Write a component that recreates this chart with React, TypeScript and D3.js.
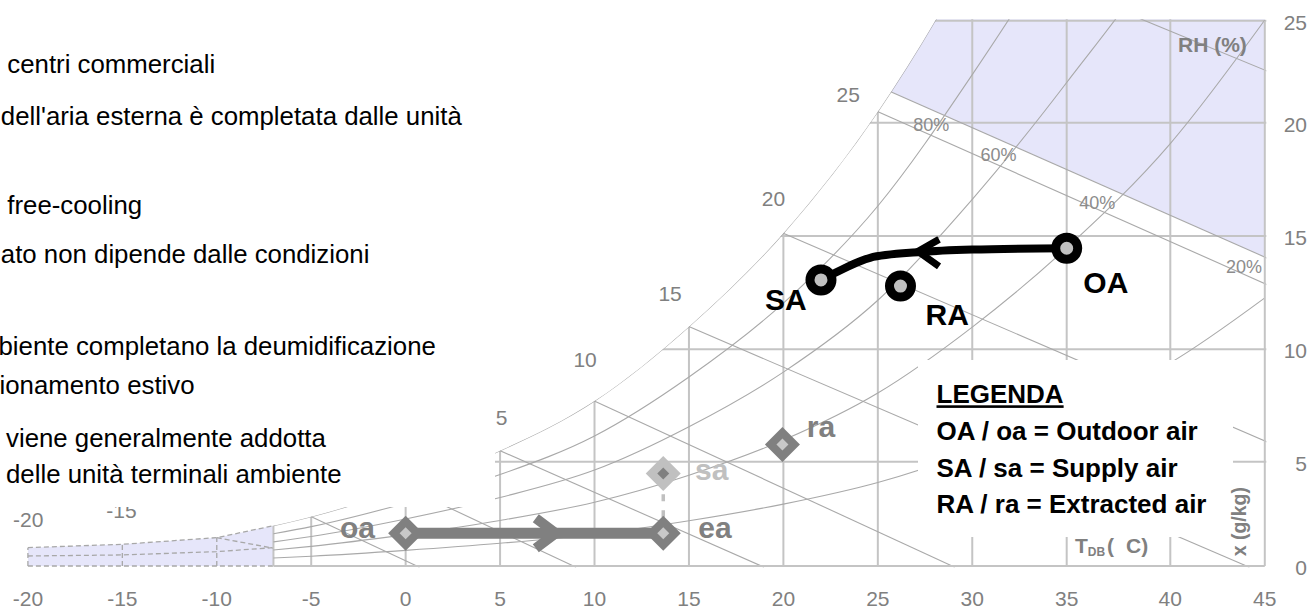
import React from "react";
import * as d3 from "d3";

const WIDTH = 1308;
const HEIGHT = 610;
const FONT = "'Liberation Sans', Arial, Helvetica, sans-serif";

// Dry-bulb temperature ticks (°C) along the bottom
const dryBulbTicks = [-20, -15, -10, -5, 0, 5, 10, 15, 20, 25, 30, 35, 40, 45];
// Humidity-ratio ticks (g/kg) along the right side
const humidityTicks = [0, 5, 10, 15, 20, 25];
// Isotherms and constant humidity lines drawn across the chart
const isotherms = [-5, 0, 5, 10, 15, 20, 25, 30, 35, 40];
const humidityLines = [5, 10, 15, 20, 25];

// Saturation curve: dry bulb (°C) and saturation humidity ratio (g/kg)
const saturationT = [-7, -5, 0, 5, 10, 15, 20, 25, 30, 35, 40, 45];
const saturationX = [1.93, 2.36, 3.77, 5.49, 7.7, 11.0, 15.12, 20.54, 28.2, 37.5, 50.0, 66.6];

// Relative humidity curves and their labels
const rhValues = [0.8, 0.6, 0.4, 0.2];
const rhLabelText = ["80%", "60%", "40%", "20%"];
const rhLabelT = [26.87, 30.44, 35.61, 42.95];
const rhLabelX = [19.65, 18.32, 16.19, 13.35];

// Constant-enthalpy lines: start point and end point (°C, g/kg)
const enthalpyStartT = [-5, 0, 5, 10, 15, 20, 25, 25.73, 38.78];
const enthalpyStartX = [2.36, 3.77, 5.49, 7.7, 11.0, 15.12, 20.54, 21.5, 25];
const enthalpyEndT = [0.59, 8.88, 18.83, 28.93, 44.04, 45, 45, 45, 45];
const enthalpyEndX = [0, 0, 0, 0, 0, 5.92, 12.9, 14.07, 22.58];
const comfortEdgeIndex = 7; // enthalpy line bounding the shaded high-enthalpy zone

// Wet-bulb labels placed along the saturation curve
const wetBulbLabels = ["25", "20", "15", "10", "5", "-15", "-20"];
const wetBulbLabelT = [24.05, 20.09, 14.62, 10.12, 5.39, -14.24, -19.18];
const wetBulbLabelX = [21.03, 16.32, 12.14, 9.23, 6.63, 2.29, 1.88];

// Sub-freezing zone outline
const frostT = [-20, -15, -10, -7];
const frostUpperX = [0.88, 1.04, 1.36, 1.93];
const frostMidX = [0.48, 0.53, 0.69, 0.88];
const frostDiagT = [-10, -7];
const frostDiagX = [1.36, 0.85];

// Summer process (uppercase) states
const summerNames = ["OA", "SA", "RA"];
const summerT = [35, 21.99, 26.2];
const summerX = [14.46, 13.06, 12.79];
const coolingT = [35, 30, 27.24, 24.59, 23.09, 21.99];
const coolingX = [14.46, 14.4, 14.29, 14.04, 13.52, 13.06];
const coolingArrow = { t: 27.13, x: 14.32 };

// Winter process (lowercase) states
const winterNames = ["oa", "ea", "sa", "ra"];
const winterT = [0, 13.64, 13.64, 19.95];
const winterX = [1.57, 1.57, 4.44, 5.77];
const heatingArrow = { t: 7.95, x: 1.57 };

// Explanatory notes shown at the top left
const noteLines = [
  "centri commerciali",
  "dell'aria esterna è completata dalle unità",
  "free-cooling",
  "ato non dipende dalle condizioni",
  "biente completano la deumidificazione",
  "ionamento estivo",
  "viene generalmente addotta",
  "delle unità terminali ambiente",
];
const legendLines = [
  "OA / oa = Outdoor air",
  "SA / sa = Supply air",
  "RA / ra = Extracted air",
];

// ---- layout ----
const noteX = [7.3, 0.8, 7.3, 0.8, -1.5, -0.5, 6, 6];
const noteY = [73.3, 125, 214.3, 263.3, 355, 394.3, 446.7, 482.7];
const summerLabelDx = [16.6, -56, 25];
const summerLabelDy = [44.4, 30, 39];
const winterLabelDx = [-30.7, 35, 31.7, 24.4];
const winterLabelDy = [5, 5, 6.7, -7.6];
const winterAnchor = ["end", "start", "start", "start"];

const xScale = d3.scaleLinear().domain([-20, 35, 40, 45]).range([27.9, 1066.7, 1170.3, 1264.8]);
const yScale = d3
  .scaleLinear()
  .domain([0, 5, 10, 15, 20, 25])
  .range([566, 461.7, 349.3, 236, 122.7, 20.7]);

const GRID = "#c4c4c4";
const CURVE = "#a9a9a9";
const LABEL = "#808080";
const SHADE = "#e6e6fa";
const P_ATM = 101.325;

type Pt = [number, number];
const smooth = d3
  .line<Pt>()
  .x((d) => xScale(d[0]))
  .y((d) => yScale(d[1]))
  .curve(d3.curveMonotoneX);
const straight = d3
  .line<Pt>()
  .x((d) => xScale(d[0]))
  .y((d) => yScale(d[1]));

const satPoints: Pt[] = saturationT.map((t, i) => [t, saturationX[i]]);

// humidity ratio at relative humidity phi, from the saturation humidity ratio
function rhHumidity(xs: number, phi: number) {
  const ps = (P_ATM * xs) / (622 + xs);
  return (622 * phi * ps) / (P_ATM - phi * ps);
}

function diamond(cx: number, cy: number, h: number) {
  return `M${cx},${cy - h}L${cx + h},${cy}L${cx},${cy + h}L${cx - h},${cy}Z`;
}

export default function App() {
  const xLeft = xScale(-7);
  const xRight = xScale(45);
  const yBottom = yScale(0);
  const yTop = yScale(25);

  const satPath = smooth(satPoints) as string;
  const satClip =
    `M${xLeft - 3},${yBottom + 5}L${xLeft - 3},${yScale(saturationX[0])}` +
    "L" +
    satPath.slice(1) +
    `L${xRight + 6},${yScale(saturationX[saturationX.length - 1])}L${xRight + 6},${yBottom + 5}Z`;

  const rhPaths = rhValues.map(
    (phi) => smooth(saturationT.map((t, i) => [t, rhHumidity(saturationX[i], phi)] as Pt)) as string
  );

  const enthalpySegs = enthalpyStartT.map((t0, i) => {
    const x0 = xScale(t0);
    const y0 = yScale(enthalpyStartX[i]);
    const x1 = xScale(enthalpyEndT[i]);
    const y1 = yScale(enthalpyEndX[i]);
    const len = Math.hypot(x1 - x0, y1 - y0);
    const ux = (x1 - x0) / len;
    const uy = (y1 - y0) / len;
    return { x0: x0 - ux * 14, y0: y0 - uy * 14, x1: x1 + ux * 3, y1: y1 + uy * 3, ex: x1, ey: y1 };
  });

  const edge = enthalpySegs[comfortEdgeIndex];
  const shadePoly = `M${edge.ex},${edge.ey}L${edge.x0},${edge.y0}L${edge.x0},${yTop - 2}L${edge.ex},${yTop - 2}Z`;

  const frostUpper: Pt[] = frostT.map((t, i) => [t, frostUpperX[i]]);
  const frostMid: Pt[] = frostT.map((t, i) => [t, frostMidX[i]]);
  const frostArea =
    (straight(frostUpper) as string) + `L${xScale(-7)},${yBottom}L${xScale(-20)},${yBottom}Z`;

  const coolingPath = d3
    .line<Pt>()
    .x((d) => xScale(d[0]))
    .y((d) => yScale(d[1]))
    .curve(d3.curveCatmullRom.alpha(0.5))(coolingT.map((t, i) => [t, coolingX[i]] as Pt)) as string;

  const sp = summerT.map((t, i) => ({ x: xScale(t), y: yScale(summerX[i]) }));
  const wp = winterT.map((t, i) => ({ x: xScale(t), y: yScale(winterX[i]) }));

  const ca = { x: xScale(coolingArrow.t), y: yScale(coolingArrow.x) };
  const ha = { x: xScale(heatingArrow.t), y: yScale(heatingArrow.x) };

  return (
    <svg
      width={WIDTH}
      height={HEIGHT}
      viewBox={`0 0 ${WIDTH} ${HEIGHT}`}
      style={{ position: "absolute", left: 0, top: 0, background: "#fff" }}
      fontFamily={FONT}
    >
      <defs>
        <clipPath id="plotArea">
          <rect x={xLeft - 3} y={yTop - 1.5} width={xRight - xLeft + 4.5} height={yBottom - yTop + 3} />
        </clipPath>
        <clipPath id="underSaturation">
          <path d={satClip} />
        </clipPath>
      </defs>
      <rect width={WIDTH} height={HEIGHT} fill="#fff" />

      {/* sub-freezing zone */}
      <g>
        <path d={frostArea} fill={SHADE} stroke="none" />
        <g fill="none" stroke="#a8a8a8" strokeWidth={1.3} strokeDasharray="5 3">
          <path d={straight(frostUpper) as string} />
          <path d={straight(frostMid) as string} />
          <path d={straight(frostDiagT.map((t, i) => [t, frostDiagX[i]] as Pt)) as string} />
          <line x1={xScale(-20)} y1={yBottom} x2={xScale(-7)} y2={yBottom} />
          {[-20, -15, -10].map((t, i) => (
            <line key={t} x1={xScale(t)} y1={yBottom} x2={xScale(t)} y2={yScale(frostUpperX[i])} />
          ))}
        </g>
      </g>

      {/* psychrometric grid */}
      <g clipPath="url(#plotArea)">
        <g clipPath="url(#underSaturation)">
          <path d={shadePoly} fill={SHADE} stroke="none" />
          <g stroke={GRID} strokeWidth={2} fill="none">
            {[-7, ...isotherms].map((t) => (
              <line key={t} x1={xScale(t)} y1={yBottom} x2={xScale(t)} y2={yTop - 5} />
            ))}
            {humidityLines.map((v) => (
              <line key={v} x1={xLeft - 5} y1={yScale(v)} x2={xRight + 5} y2={yScale(v)} />
            ))}
          </g>
          <g stroke={CURVE} strokeWidth={1.1} fill="none">
            <path d={satPath} />
            {rhPaths.map((d, i) => (
              <path key={i} d={d} />
            ))}
            {enthalpySegs.map((s, i) => (
              <line key={i} x1={s.x0} y1={s.y0} x2={s.x1} y2={s.y1} />
            ))}
          </g>
        </g>
      </g>
      <g stroke={GRID} strokeWidth={2}>
        <line x1={xLeft} y1={yBottom} x2={xRight} y2={yBottom} />
        <line x1={xRight} y1={yBottom} x2={xRight} y2={yTop} />
      </g>

      {/* curve labels */}
      <g fill="#8c8c8c" fontSize={18}>
        {rhLabelText.map((s, i) => (
          <text key={s} x={xScale(rhLabelT[i])} y={yScale(rhLabelX[i])}>
            {s}
          </text>
        ))}
      </g>
      <g fill={LABEL} fontSize={21}>
        {wetBulbLabels.map((s, i) => (
          <text key={s} x={xScale(wetBulbLabelT[i])} y={yScale(wetBulbLabelX[i])} textAnchor="end">
            {s}
          </text>
        ))}
        {dryBulbTicks.map((t) => (
          <text key={t} x={xScale(t)} y={606} textAnchor="middle">
            {t}
          </text>
        ))}
        {humidityTicks.map((v) => (
          <text key={v} x={1307} y={yScale(v) + 9} textAnchor="end">
            {v}
          </text>
        ))}
      </g>
      <text x={1178} y={52} fill={LABEL} fontSize={21} fontWeight="bold">
        RH (%)
      </text>

      {/* notes panel */}
      <rect x={0} y={0} width={495} height={507} fill="#fff" />
      <g fill="#000" fontSize={25.8}>
        {noteLines.map((s, i) => (
          <text key={i} x={noteX[i]} y={noteY[i]}>
            {s}
          </text>
        ))}
      </g>

      {/* legend */}
      <rect x={918} y={360} width={315} height={177} fill="#fff" />
      <g fill="#000" fontSize={26} fontWeight="bold">
        <text x={936.5} y={403.3} textDecoration="underline">
          LEGENDA
        </text>
        {legendLines.map((s, i) => (
          <text key={s} x={936.5} y={440 + i * 36.7}>
            {s}
          </text>
        ))}
      </g>
      <text x={1075} y={553} fill={LABEL} fontSize={21} fontWeight="bold">
        T
        <tspan fontSize={12} dy={3}>
          DB
        </tspan>
        <tspan x={1107} dy={-3}>
          (
        </tspan>
        <tspan x={1126}>C)</tspan>
      </text>
      <text
        transform="translate(1246,521.7) rotate(-90)"
        fill={LABEL}
        fontSize={19.5}
        fontWeight="bold"
        textAnchor="middle"
      >
        x (g/kg)
      </text>

      {/* winter process */}
      <line x1={wp[1].x} y1={wp[1].y} x2={wp[2].x} y2={wp[2].y} stroke="#c0c0c0" strokeWidth={3.5} strokeDasharray="7 9" />
      <line x1={wp[0].x} y1={wp[0].y} x2={wp[1].x} y2={wp[1].y} stroke="#808080" strokeWidth={11} />
      <polyline
        points={`${ha.x - 20},${ha.y - 15} ${ha.x},${ha.y} ${ha.x - 20},${ha.y + 15}`}
        fill="none"
        stroke="#808080"
        strokeWidth={10}
      />
      {wp.map((p, i) => {
        const light = winterNames[i] === "sa";
        return (
          <g key={winterNames[i]}>
            <path d={diamond(p.x, p.y, 17.5)} fill={light ? "#c0c0c0" : "#808080"} />
            <path d={diamond(p.x, p.y, 6)} fill={light ? "#808080" : "#c8c8c8"} />
            <text
              x={p.x + winterLabelDx[i]}
              y={p.y + winterLabelDy[i]}
              textAnchor={winterAnchor[i]}
              fontSize={30}
              fontWeight="bold"
              fill={light ? "#c0c0c0" : "#808080"}
            >
              {winterNames[i]}
            </text>
          </g>
        );
      })}

      {/* summer process */}
      <path d={coolingPath} fill="none" stroke="#000" strokeWidth={8} />
      <polyline
        points={`${ca.x + 21},${ca.y - 12} ${ca.x},${ca.y} ${ca.x + 21},${ca.y + 15}`}
        fill="none"
        stroke="#000"
        strokeWidth={7}
      />
      {sp.map((p, i) => (
        <g key={summerNames[i]}>
          <circle cx={p.x} cy={p.y} r={11} fill="#c0c0c0" stroke="#000" strokeWidth={9} />
          <text
            x={p.x + summerLabelDx[i]}
            y={p.y + summerLabelDy[i]}
            fontSize={30}
            fontWeight="bold"
            fill="#000"
          >
            {summerNames[i]}
          </text>
        </g>
      ))}
    </svg>
  );
}
